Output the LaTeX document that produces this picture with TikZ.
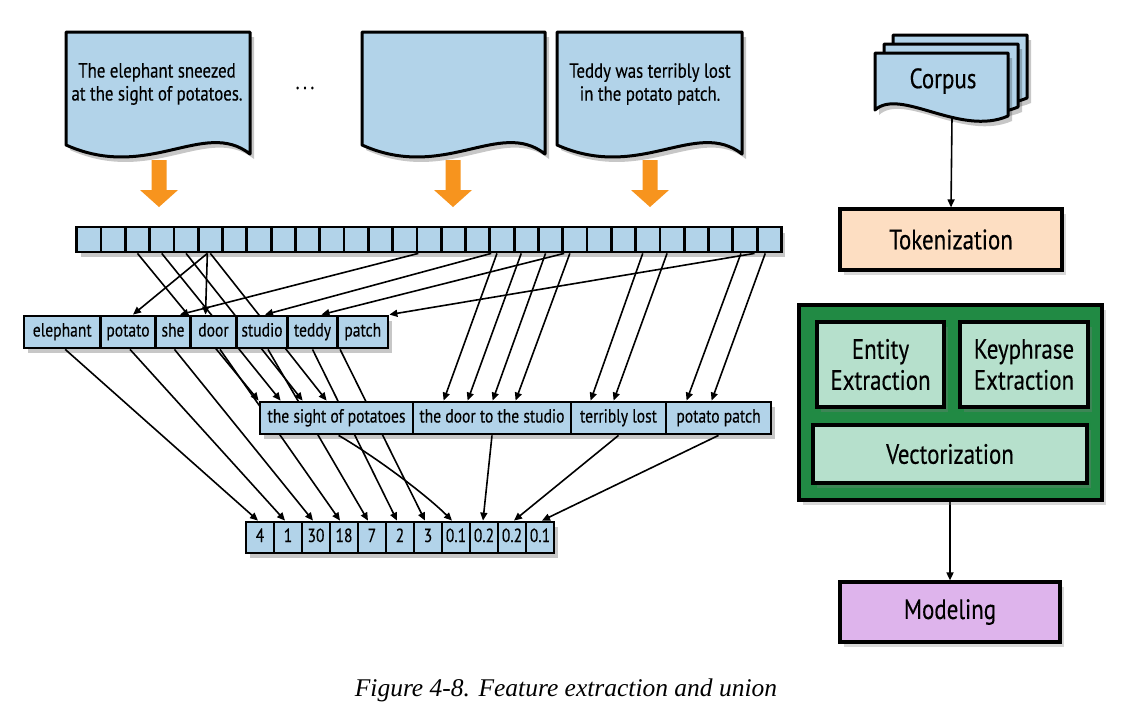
\documentclass[tikz,border=0pt]{standalone}
\usepackage{fontspec}
\setmainfont{PT Sans}[FakeStretch=0.82,FakeBold=0.3]
\newfontfamily\capfont{Liberation Serif}
\usetikzlibrary{arrows.meta,shadows}
\pgfdeclarelayer{back}
\pgfdeclarelayer{bg}
\pgfsetlayers{back,bg,main}
\definecolor{lblue}{RGB}{178,211,233}
\definecolor{aorange}{RGB}{247,148,30}
\definecolor{peach}{RGB}{253,222,194}
\definecolor{dgreen}{RGB}{33,138,68}
\definecolor{mint}{RGB}{182,224,204}
\definecolor{violet1}{RGB}{222,180,236}
\tikzset{
 rowcell/.style={draw=black, line width=2.8pt, fill=lblue, inner sep=0pt, text height=13pt, text depth=4pt, font=\fontsize{19}{22}\selectfont},
 tcell/.style={rowcell, minimum width=24.3pt, minimum height=25pt},
 vcell/.style={rowcell, minimum width=28pt, minimum height=31pt},
 bigbox/.style={draw=black, line width=3.2pt, inner sep=0pt, font=\fontsize{28}{31}\selectfont, align=center, drop shadow={shadow xshift=4pt, shadow yshift=-5pt, opacity=.3}},
 conn/.style={line width=1.6pt, -{Triangle[length=8pt,width=7pt]}},
 rowshadow/.style={fill=black, opacity=.22},
 docst/.style={draw=black, line width=3pt, fill=lblue, line join=round},
}
\newcommand\docshape[4]{\path[#1] (#2,#3) -- ({#2+#4},#3) -- ({#2+#4},{#3+122}) .. controls ({#2+0.75*#4},{#3+86}) and ({#2+0.45*#4},{#3+150}) .. (#2,{#3+113}) -- cycle;}
\newcommand\corpshape[4]{\path[#1] (#2,#3) -- ({#2+#4},#3) -- ({#2+#4},{#3+63}) .. controls ({#2+0.64*#4},{#3+84}) and ({#2+0.19*#4},{#3+34}) .. (#2,{#3+57}) -- cycle;}
\newcommand\oarrow[1]{\fill[aorange] ({#1-7.5},160) -- ({#1+7.5},160) -- ({#1+7.5},190) -- ({#1+19},190) -- (#1,207) -- ({#1-19},190) -- ({#1-7.5},190) -- cycle;}
\begin{document}
\begin{tikzpicture}[x=1pt,y=-1pt]
\begin{pgfonlayer}{back}
\fill[white] (0,0) rectangle (1122,721);
\end{pgfonlayer}
\useasboundingbox (0,0) rectangle (1122,721);

% documents
\docshape{rowshadow}{70}{37}{184}
\docshape{docst}{66}{32}{184}
\docshape{rowshadow}{366}{37}{183}
\docshape{docst}{362}{32}{183}
\docshape{rowshadow}{561}{37}{185}
\docshape{docst}{557}{32}{185}
\node[font=\fontsize{20.5}{23}\selectfont, align=center] (d1) at (157,84) {The elephant sneezed\\at the sight of potatoes.};
\node[font=\fontsize{20.5}{23}\selectfont, align=center] (d3) at (650,84) {Teddy was terribly lost\\in the potato patch.};
\node[font=\fontsize{22}{24}\selectfont] (dots) at (305,88) {.\hspace{3.5pt}.\hspace{3.5pt}.};

% orange arrows
\oarrow{159}
\oarrow{453}
\oarrow{650}

% token row
\fill[rowshadow] (80.7,232.5) rectangle (785,257);
\foreach \i in {0,...,28} \node[tcell] (t\i) at ({88.85+24.3*\i},239.5) {};

% word row
\fill[rowshadow] (28,321) rectangle (392,353);
\foreach \n/\l/\r in {elephant/24/100.5, potato/100.5/155.5, she/155.5/190.5, door/190.5/236.5, studio/236.5/287.5, teddy/287.5/337.5, patch/337.5/388}
  \node[rowcell, minimum width=\r pt-\l pt, minimum height=32pt] (\n) at ({(\l+\r)/2},332) {\n};

% phrase row
\fill[rowshadow] (264,407) rectangle (775,439);
\foreach \n/\l/\r/\t in {p1/260/413/the sight of potatoes, p2/413/571/the door to the studio, p3/571/666/terribly lost, p4/666/771/potato patch}
  \node[rowcell, minimum width=\r pt-\l pt, minimum height=32pt] (\n) at ({(\l+\r)/2},418) {\t};

% vector row
\fill[rowshadow] (250,527) rectangle (558,558);
\foreach \t [count=\k from 0] in {4,1,30,18,7,2,3,0.1,0.2,0.2,0.1}
  \node[vcell] (v\k) at ({260+28*\k},537.5) {\t};

% right side
\corpshape{rowshadow}{897}{40}{134}
\corpshape{docst}{893}{35}{134}
\corpshape{rowshadow}{888}{49}{134}
\corpshape{docst}{884}{44}{134}
\corpshape{rowshadow}{879}{58}{133}
\corpshape{docst}{875}{53}{133}
\node[font=\fontsize{28}{31}\selectfont] (corpus) at (943,81) {Corpus};
\coordinate (cb) at (952,117);
\node[bigbox, fill=peach, minimum width=222pt, minimum height=61pt] (tok) at (951,239.5) {Tokenization};
\node[bigbox, fill=dgreen, minimum width=303pt, minimum height=195pt] (grp) at (950.5,402.5) {};
\node[bigbox, fill=mint, minimum width=127pt, minimum height=85pt] (ent) at (880.5,364.5) {Entity\\Extraction};
\node[bigbox, fill=mint, minimum width=128pt, minimum height=85pt] (key) at (1024,364.5) {Keyphrase\\Extraction};
\node[bigbox, fill=mint, minimum width=274pt, minimum height=58pt] (vec) at (950,454) {Vectorization};
\node[bigbox, fill=violet1, minimum width=220pt, minimum height=60pt] (mod) at (950,612) {Modeling};

\node[font=\capfont\itshape\fontsize{25.5}{28}\selectfont] (cap) at (566,690) {Figure 4-8. Feature extraction and union};

% connectors
\begin{pgfonlayer}{bg}
\draw[conn] ([xshift=-3pt]t5.south) -- ([xshift=5pt]potato.north);
\draw[conn] ([xshift=-3pt]t5.south) -- ([xshift=-8pt]door.north);
\draw[conn] (t13.south east) -- ([xshift=7pt]she.north);
\draw[conn] (t16.south east) -- ([xshift=3pt]studio.north);
\draw[conn] (t19.south east) -- ([xshift=9pt]teddy.north);
\draw[conn] ([xshift=-4pt]t27.south east) -- (patch.north east);

\foreach \a/\d in {2/0,3/22,4/44,5/68} \draw[conn] (t\a.south) -- ([xshift=\d pt]p1.north west);
\foreach \a/\d in {17/32,18/56,19/81,20/104} \draw[conn] ([xshift=-5pt]t\a.south) -- ([xshift=\d pt]p2.north west);
\foreach \a/\d in {23/21,24/44} \draw[conn] ([xshift=-5pt]t\a.south) -- ([xshift=\d pt]p3.north west);
\foreach \a/\d in {27/22,28/47} \draw[conn] ([xshift=-4pt]t\a.south) -- ([xshift=\d pt]p4.north west);

\draw[conn] ([xshift=3pt]elephant.south) -- ([xshift=-2pt]v0.north);
\draw[conn] ([xshift=2pt]potato.south) -- ([xshift=-3pt]v1.north);
\draw[conn] ([xshift=1.5pt]she.south) -- ([xshift=-3pt]v2.north);
\draw[conn] ([xshift=6.5pt]door.south) -- ([xshift=-4pt]v3.north);
\draw[conn] ([xshift=6pt]studio.south) -- ([xshift=-4pt]v4.north);
\draw[conn] (teddy.south) -- ([xshift=-3pt]v5.north);
\draw[conn] ([xshift=4pt]patch.south west) -- ([xshift=-3pt]v6.north);

\draw[conn] ([xshift=80pt]p1.south west) .. controls +(38,22) and +(-25,-25) .. ([xshift=-4pt]v7.north);
\draw[conn] (p2.south) -- ([xshift=-1pt]v8.north);
\draw[conn] (p3.south) -- ([xshift=2pt]v9.north);
\draw[conn] (p4.south) -- ([xshift=2pt]v10.north);

\draw[conn] (cb) -- (tok.north);
\draw[conn] (vec.south) -- (mod.north);
\end{pgfonlayer}
\end{tikzpicture}
\end{document}
